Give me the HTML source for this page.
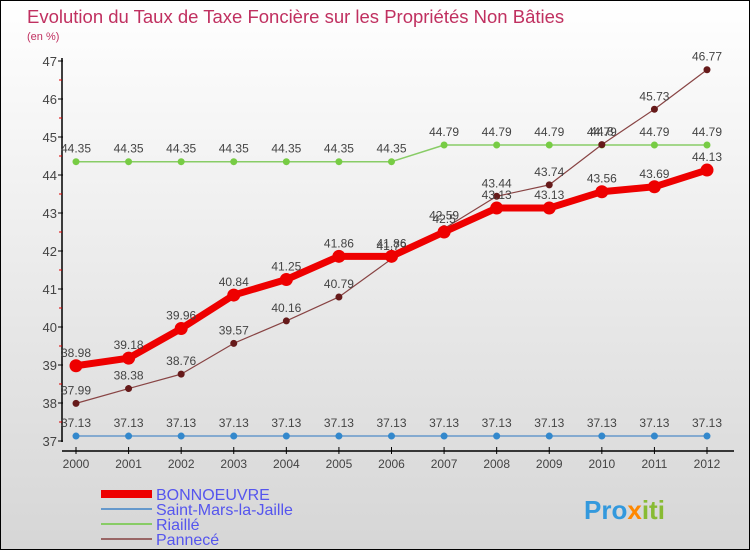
<!DOCTYPE html>
<html><head><meta charset="utf-8"><style>
body{margin:0;}
#c{width:750px;height:550px;position:relative;box-sizing:border-box;border:1px solid #000;background:linear-gradient(#ffffff,#d6d6d6);font-family:"Liberation Sans",sans-serif;overflow:hidden}
svg text{font-family:"Liberation Sans",sans-serif}
</style></head><body>
<div id="c">
<svg id="s" width="750" height="550">
<text x="26" y="22" font-size="18.5" fill="#c03060" font-weight="normal">Evolution du Taux de Taxe Foncière sur les Propriétés Non Bâties</text>
<text x="26" y="39" font-size="11" fill="#c03060">(en %)</text>
<g id="g"></g>
<g>
<rect x="100" y="489" width="51" height="8" fill="#ee0000"/>
<text x="155" y="499" font-size="16" fill="#5555ee">BONNOEUVRE</text>
<rect x="100" y="507" width="51" height="2" fill="#6699cc"/>
<text x="155" y="514" font-size="16" fill="#5555ee">Saint-Mars-la-Jaille</text>
<rect x="100" y="522" width="51" height="2" fill="#88cc66"/>
<text x="155" y="529" font-size="16" fill="#5555ee">Riaillé</text>
<rect x="100" y="537" width="51" height="2" fill="#996666"/>
<text x="155" y="544" font-size="16" fill="#5555ee">Pannecé</text>
</g>
<text x="583" y="518" font-size="26" font-weight="bold" fill="#3399dd">Pro<tspan fill="#ff8800">x</tspan><tspan fill="#88bb33">iti</tspan></text>
</svg>
</div>
<script>
const years=[2000,2001,2002,2003,2004,2005,2006,2007,2008,2009,2010,2011,2012];
const yTicks=[37,38,39,40,41,42,43,44,45,46,47];
const bonnoeuvre=[38.98,39.18,39.96,40.84,41.25,41.86,41.86,42.5,43.13,43.13,43.56,43.69,44.13];
const saintMars=[37.13,37.13,37.13,37.13,37.13,37.13,37.13,37.13,37.13,37.13,37.13,37.13,37.13];
const riaille=[44.35,44.35,44.35,44.35,44.35,44.35,44.35,44.79,44.79,44.79,44.79,44.79,44.79];
const pannece=[37.99,38.38,38.76,39.57,40.16,40.79,41.79,42.59,43.44,43.74,44.8,45.73,46.77];
const NS='http://www.w3.org/2000/svg';
const g=document.getElementById('g');
const xs=i=>75+i*(706-75)/12;
const ys=v=>440-(v-37)*38;
function mk(t,a){const e=document.createElementNS(NS,t);for(const k in a)e.setAttribute(k,a[k]);g.appendChild(e);return e;}
let e;
e=mk('line',{x1:61,y1:57,x2:61,y2:441,stroke:'#000','stroke-width':1.5});


e=mk('line',{x1:61,y1:450,x2:733,y2:450,stroke:'#000','stroke-width':1.5});


yTicks.forEach((v,i)=>{
 mk('line',{x1:57,y1:ys(v),x2:62,y2:ys(v),stroke:'#000'});
 if(i<yTicks.length-1)mk('line',{x1:58,y1:ys(v+0.5),x2:61,y2:ys(v+0.5),stroke:'#d00'});
 e=mk('text',{x:56,y:ys(v)+5,'font-size':13,fill:'#444','text-anchor':'end'});
 e.textContent=v;
 
 
});
years.forEach((y,i)=>{
 mk('line',{x1:xs(i),y1:446,x2:xs(i),y2:453,stroke:'#000'});
 e=mk('text',{x:xs(i),y:467,'font-size':12,fill:'#444','text-anchor':'middle'});
 e.textContent=y;
 
 
});
function series(d,name,col,w,r,dot){
 e=mk('polyline',{points:d.map((v,i)=>xs(i)+','+ys(v)).join(' '),fill:'none',stroke:col,'stroke-width':w,'stroke-linejoin':'round'});
 
 
 d.forEach((v,i)=>{
  e=mk('circle',{cx:xs(i),cy:ys(v),r:r,fill:dot});
  
  
  e=mk('text',{x:xs(i),y:ys(v)-9,'font-size':12,fill:'#444','text-anchor':'middle'});
  e.textContent=v;
  
  
 });
}
series(saintMars,'saint-mars','#6699cc',1.5,3.5,'#3388cc');
series(riaille,'riaille','#88cc66',1.5,3.5,'#77cc44');
series(pannece,'pannece','#884444',1.2,3.5,'#661a1a');
series(bonnoeuvre,'bonnoeuvre','#ee0000',7,6.5,'#ee0000');
</script>
</body></html>
